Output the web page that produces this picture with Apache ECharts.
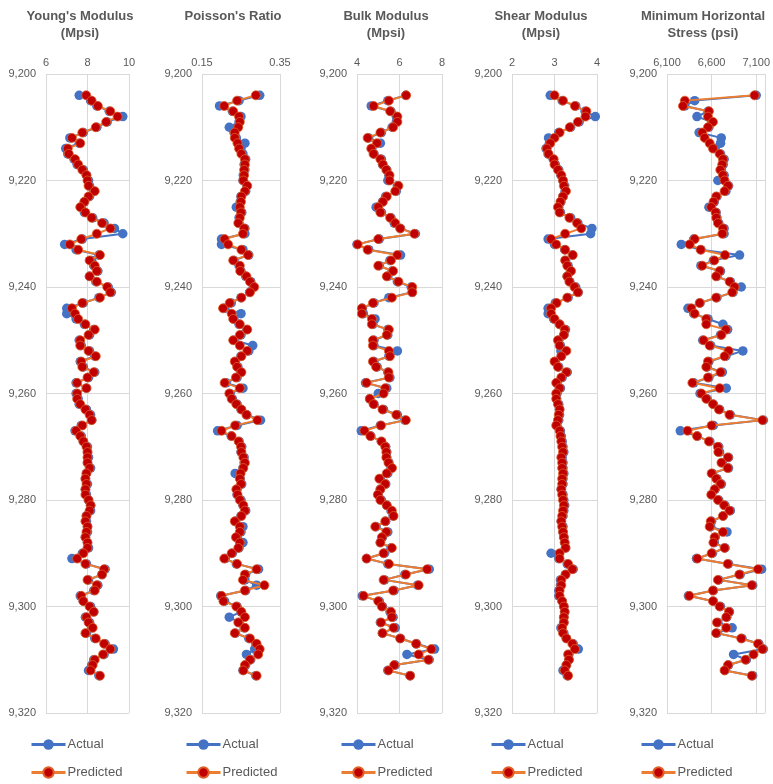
<!DOCTYPE html>
<html><head><meta charset="utf-8">
<script src="https://cdn.jsdelivr.net/npm/echarts@6/dist/echarts.min.js"></script>
<style>html,body{margin:0;padding:0;background:#fff}#c{width:773px;height:784px}</style>
</head><body><div id="c"></div><script>
const depth = [9204,9205,9206,9207,9208,9209,9210,9211,9212,9213,
9214,9215,9216,9217,9218,9219,9220,9221,9222,9223,
9224,9225,9226,9227,9228,9229,9230,9231,9232,9233,
9234,9235,9236,9237,9238,9239,9240,9241,9242,9243,
9244,9245,9246,9247,9248,9249,9250,9251,9252,9253,
9254,9255,9256,9257,9258,9259,9260,9261,9262,9263,
9264,9265,9266,9267,9268,9269,9270,9271,9272,9273,
9274,9275,9276,9277,9278,9279,9280,9281,9282,9283,
9284,9285,9286,9287,9288,9289,9290,9291,9292,9293,
9294,9295,9296,9297,9298,9299,9300,9301,9302,9303,
9304,9305,9306,9307,9308,9309,9310,9311,9312,9313];

const ymActual = [7.6,8.15,8.45,9.05,9.7,8.95,8.45,7.8,7.15,7.6,
6.95,7.05,7.35,7.5,7.8,7.95,8.05,8.1,8.3,8.1,
7.85,7.7,7.85,8.25,8.8,9.3,9.7,7.75,6.9,7.45,
8.55,8.2,8.3,8.5,8.1,8.4,9.0,9.15,8.55,7.8,
7.0,7.0,7.45,7.85,8.3,8.1,7.6,7.7,8.1,8.35,
7.65,7.8,8.35,8.05,7.45,7.95,7.45,7.55,7.6,7.95,
8.15,8.2,7.7,7.4,7.7,7.8,8.0,8.0,8.05,8.0,
8.15,7.95,7.9,8.0,7.9,7.95,8.05,8.15,8.15,7.95,
7.95,8.0,8.0,7.9,8.0,8.05,7.75,7.25,7.95,8.85,
8.7,8.05,8.5,8.3,7.65,7.8,8.15,8.3,7.9,8.1,
8.2,7.95,8.35,8.85,9.25,8.8,8.3,8.2,8.05,8.55];
const ymPred = [7.94,8.2,8.5,9.1,9.45,8.9,8.4,7.75,7.25,7.65,
7.05,7.1,7.4,7.55,7.75,7.95,8.0,8.05,8.35,8.05,
7.85,7.65,7.9,8.2,8.7,9.1,8.45,7.7,7.15,7.55,
8.6,8.1,8.35,8.45,8.1,8.45,8.95,9.1,8.6,7.75,
7.25,7.4,7.55,7.9,8.35,8.05,7.65,7.65,8.05,8.4,
7.7,7.75,8.3,8.0,7.5,7.95,7.5,7.5,7.65,7.9,
8.1,8.2,7.75,7.45,7.65,7.8,7.95,8.0,8.0,8.0,
8.1,7.95,7.9,7.95,7.9,7.9,8.05,8.15,8.1,7.95,
7.9,8.0,7.95,7.9,8.0,8.0,7.8,7.5,7.9,8.8,
8.7,8.0,8.45,8.35,7.7,7.8,8.1,8.3,7.95,8.05,
8.25,7.9,8.4,8.8,9.1,8.75,8.35,8.25,8.15,8.6];

const prActual = [0.298,0.245,0.195,0.228,0.25,0.245,0.22,0.232,0.238,0.26,
0.25,0.255,0.262,0.258,0.26,0.256,0.255,0.265,0.262,0.25,
0.248,0.238,0.252,0.245,0.245,0.26,0.26,0.2,0.2,0.255,
0.27,0.232,0.245,0.25,0.262,0.275,0.282,0.272,0.25,0.225,
0.208,0.25,0.232,0.245,0.265,0.25,0.232,0.28,0.27,0.25,
0.236,0.242,0.25,0.24,0.212,0.255,0.222,0.228,0.24,0.25,
0.265,0.3,0.24,0.19,0.225,0.245,0.252,0.25,0.258,0.258,
0.255,0.235,0.248,0.252,0.24,0.24,0.25,0.255,0.262,0.25,
0.236,0.255,0.25,0.24,0.255,0.245,0.228,0.21,0.238,0.295,
0.262,0.26,0.29,0.262,0.198,0.208,0.24,0.25,0.22,0.245,
0.258,0.236,0.27,0.288,0.285,0.264,0.275,0.262,0.255,0.288];
const prPred = [0.288,0.24,0.207,0.23,0.245,0.247,0.243,0.234,0.234,0.241,
0.245,0.251,0.26,0.26,0.258,0.258,0.256,0.266,0.26,0.251,
0.25,0.247,0.25,0.247,0.243,0.258,0.255,0.208,0.217,0.251,
0.268,0.23,0.247,0.248,0.264,0.273,0.284,0.273,0.251,0.221,
0.204,0.226,0.23,0.247,0.266,0.247,0.23,0.247,0.266,0.251,
0.234,0.24,0.251,0.237,0.208,0.247,0.22,0.226,0.238,0.251,
0.264,0.292,0.235,0.2,0.226,0.244,0.25,0.251,0.256,0.26,
0.256,0.249,0.247,0.25,0.238,0.241,0.247,0.256,0.26,0.251,
0.234,0.247,0.247,0.237,0.247,0.243,0.226,0.207,0.24,0.29,
0.26,0.255,0.31,0.26,0.2,0.205,0.238,0.251,0.26,0.243,
0.26,0.234,0.273,0.29,0.298,0.294,0.273,0.26,0.256,0.29];

const bkActual = [6.3,5.45,4.67,5.6,5.85,5.85,5.65,5.15,4.55,5.1,
4.7,4.8,5.15,5.2,5.4,5.5,5.45,5.9,5.85,5.35,
5.2,4.9,5.15,5.6,5.75,6.05,6.75,5.05,4.0,4.55,
6.05,5.55,5.05,5.65,5.45,5.9,6.55,6.6,5.5,4.8,
4.25,4.3,4.85,4.75,5.45,5.45,4.8,4.8,5.9,5.5,
4.8,4.95,5.45,5.55,4.4,5.4,5.0,4.6,4.8,5.25,
5.9,6.25,5.1,4.2,4.65,5.15,5.35,5.4,5.4,5.5,
5.6,5.45,5.1,5.35,5.1,5.0,5.15,5.4,5.6,5.7,
5.35,4.9,5.45,5.2,5.1,5.6,5.3,4.45,5.45,7.4,
6.25,5.3,6.85,5.75,4.25,5.05,5.2,5.55,5.7,5.1,
5.8,5.2,6.05,6.8,7.65,6.35,7.4,5.8,5.45,6.5];
const bkPred = [6.31,5.5,4.78,5.56,5.9,5.9,5.7,5.1,4.5,4.94,
4.67,4.78,5.1,5.22,5.38,5.53,5.53,5.95,5.8,5.4,
5.22,5.0,5.1,5.56,5.8,6.03,6.7,5.0,4.03,4.5,
5.9,5.6,5.0,5.7,5.4,5.95,6.6,6.6,5.64,4.75,
4.23,4.23,4.7,4.7,5.5,5.4,4.75,4.75,5.5,5.55,
4.75,4.9,5.48,5.5,4.45,5.33,5.25,4.6,4.78,5.2,
5.85,6.3,5.13,4.35,4.63,5.15,5.33,5.38,5.38,5.48,
5.65,5.4,5.05,5.33,5.1,4.98,5.1,5.4,5.64,5.72,
5.33,4.86,5.38,5.17,5.1,5.64,5.25,4.45,5.5,7.3,
6.3,5.25,6.9,5.7,4.31,5.0,5.17,5.6,5.64,5.13,
5.72,5.2,6.03,6.78,7.5,6.9,7.36,5.75,5.48,6.5];

const shActual = [2.9,3.18,3.5,3.72,3.96,3.58,3.38,3.1,2.86,2.88,
2.8,2.85,2.97,3.02,3.1,3.15,3.2,3.24,3.25,3.2,
3.15,3.1,3.14,3.38,3.55,3.88,3.85,2.85,3.0,3.24,
3.42,3.26,3.32,3.38,3.3,3.36,3.5,3.56,3.32,3.02,
2.85,2.85,2.98,3.12,3.26,3.22,3.1,3.14,3.15,3.16,
3.02,3.1,3.3,3.18,3.06,3.14,3.06,3.05,3.1,3.12,
3.12,3.1,3.06,3.14,3.16,3.18,3.2,3.22,3.18,3.2,
3.2,3.22,3.2,3.2,3.16,3.2,3.22,3.24,3.22,3.2,
3.16,3.2,3.2,3.22,3.24,3.26,2.92,3.1,3.3,3.44,
3.26,3.14,3.14,3.1,3.1,3.18,3.22,3.24,3.22,3.22,
3.15,3.22,3.28,3.44,3.56,3.34,3.34,3.28,3.2,3.3];
const shPred = [3.0,3.2,3.48,3.75,3.73,3.55,3.36,3.12,3.0,2.9,
2.82,2.86,2.98,3.0,3.08,3.16,3.2,3.22,3.27,3.2,
3.14,3.08,3.12,3.35,3.53,3.63,3.25,2.92,3.04,3.25,
3.43,3.25,3.3,3.39,3.3,3.35,3.47,3.55,3.3,3.05,
2.92,2.92,3.0,3.12,3.24,3.22,3.08,3.12,3.28,3.16,
3.0,3.08,3.28,3.16,3.04,3.12,3.04,3.04,3.08,3.12,
3.1,3.08,3.04,3.12,3.14,3.16,3.18,3.2,3.16,3.18,
3.18,3.2,3.18,3.18,3.16,3.18,3.2,3.22,3.2,3.18,
3.16,3.18,3.2,3.22,3.24,3.26,3.12,3.12,3.32,3.42,
3.26,3.16,3.16,3.12,3.12,3.18,3.22,3.24,3.22,3.22,
3.18,3.2,3.28,3.42,3.48,3.32,3.34,3.28,3.24,3.32];

const msActual = [7100,6410,6300,6560,6436,6600,6570,6460,6708,6700,
6640,6700,6740,6730,6710,6740,6670,6790,6760,6660,
6630,6570,6650,6660,6680,6740,6740,6400,6260,6480,
6913,6620,6480,6700,6660,6810,6932,6840,6660,6470,
6335,6400,6560,6727,6780,6700,6500,6590,6950,6760,
6570,6550,6720,6570,6400,6764,6470,6550,6620,6690,
6810,7180,6620,6249,6440,6580,6680,6690,6790,6720,
6790,6610,6660,6710,6640,6600,6680,6750,6810,6730,
6600,6590,6772,6640,6630,6750,6610,6430,6790,7160,
6920,6680,7060,6620,6340,6620,6700,6800,6770,6670,
6830,6660,6940,7130,7180,6846,6990,6790,6750,7060];
const msPred = [7081,6300,6279,6570,6559,6615,6559,6495,6522,6578,
6615,6690,6727,6719,6697,6727,6745,6783,6745,6652,
6622,6596,6645,6652,6671,6727,6720,6410,6354,6477,
6750,6630,6495,6690,6650,6802,6857,6831,6650,6466,
6372,6410,6540,6540,6760,6710,6510,6578,6790,6745,
6559,6540,6700,6559,6384,6690,6485,6540,6615,6682,
6800,7170,6600,6330,6436,6570,6670,6675,6783,6710,
6780,6600,6652,6700,6634,6596,6671,6740,6800,6727,
6590,6578,6727,6634,6620,6745,6600,6440,6780,7120,
6910,6670,7050,6615,6350,6615,6690,6795,6764,6660,
6764,6650,6932,7120,7170,7070,6980,6783,6745,7050];

const titles = ["Young's Modulus\n(Mpsi)", "Poisson's Ratio", "Bulk Modulus\n(Mpsi)", "Shear Modulus\n(Mpsi)", "Minimum Horizontal\nStress (psi)"];
const xMin = [6, 0.15, 4, 2, 6100];
const xMax = [10, 0.35, 8, 4, 7200];
const xStep = [2, 0.2, 2, 1, 500];
const depthMin = 9200, depthMax = 9320, depthStep = 20;
const seriesNames = ['Actual', 'Predicted'];
const actualSets = [ymActual, prActual, bkActual, shActual, msActual];
const predSets = [ymPred, prPred, bkPred, shPred, msPred];

// layout (pixels)
const plotLeft = [46, 202, 357, 512, 667];
const plotWidth = [83, 78, 85, 85, 99];
const titleCenter = [75, 228, 381, 536, 698];
const legendLeft = [30, 185, 340, 490, 640];

const txt = '#595959';
const gridColor = '#D9D9D9';
const font = 'Liberation Sans, Arial, sans-serif';

const option = {animation:false, backgroundColor:'#fff', title:[], grid:[], xAxis:[], yAxis:[], series:[], legend:[]};
for (let i=0;i<5;i++){
  option.title.push({text:titles[i], left:titleCenter[i], top:3, textAlign:'center',
    textStyle:{fontFamily:font, fontSize:13, fontWeight:'bold', color:txt, lineHeight:17}});
  option.grid.push({left:plotLeft[i], top:74, width:plotWidth[i], height:639, containLabel:false});
  option.xAxis.push({type:'value', gridIndex:i, position:'top', min:xMin[i], max:xMax[i], interval:xStep[i],
    axisLine:{show:false}, axisTick:{show:false},
    axisLabel:{color:txt, fontFamily:font, fontSize:11, margin:6, showMaxLabel: i!==4},
    splitLine:{show:true, lineStyle:{color:gridColor, width:1}}});
  option.yAxis.push({type:'value', gridIndex:i, inverse:true, min:depthMin, max:depthMax, interval:depthStep,
    axisLine:{show:false}, axisTick:{show:false},
    axisLabel:{color:txt, fontFamily:font, fontSize:11, margin:10},
    splitLine:{show:true, lineStyle:{color:gridColor, width:1}}});
  option.series.push({name:seriesNames[0], type:'line', xAxisIndex:i, yAxisIndex:i,
    data: depth.map((d,j)=>[actualSets[i][j], d]),
    symbol:'circle', symbolSize:9.5, showAllSymbol:true,
    lineStyle:{color:'#4472C4', width:2}, itemStyle:{color:'#4472C4'}, z:2});
  option.series.push({name:seriesNames[1], type:'line', xAxisIndex:i, yAxisIndex:i,
    data: depth.map((d,j)=>[predSets[i][j], d]),
    symbol:'circle', symbolSize:9, showAllSymbol:true,
    lineStyle:{color:'#ED7D31', width:2}, itemStyle:{color:'#C00000', borderColor:'#E0602A', borderWidth:0.8}, z:3});
  for (let k=0;k<2;k++){
    option.legend.push({orient:'horizontal', left:legendLeft[i], top:737 + k*28, itemWidth:34, itemHeight:13, itemGap:4, padding:0,
      data:[seriesNames[k]], selectedMode:false,
      lineStyle:{width:3},
      textStyle:{color:txt, fontFamily:font, fontSize:13, lineHeight:15, padding:[0,0,0,-3]}});
  }
}
const chart = echarts.init(document.getElementById('c'), null, {renderer:'canvas'});
chart.setOption(option);
</script></body></html>
